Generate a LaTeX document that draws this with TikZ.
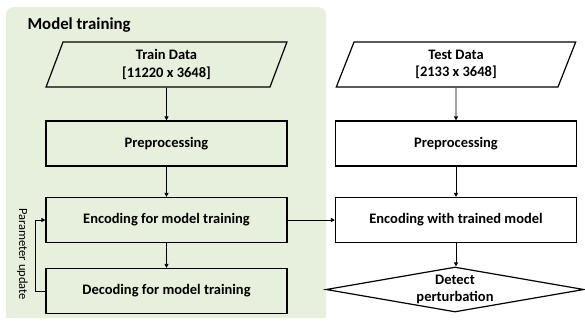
\documentclass[tikz,border=0pt]{standalone}
\usepackage{fontspec}
\setmainfont{Carlito}
\usetikzlibrary{arrows.meta,shapes.geometric}
\definecolor{bggreen}{HTML}{E6F0DD}
\begin{document}
\begin{tikzpicture}[x=1pt,y=-1pt,
  txt/.style={font=\bfseries\fontsize{14.5}{17.5}\selectfont,align=center},
  box/.style={txt,draw=black,line width=1.2pt,minimum width=241pt,minimum height=45pt,inner sep=0pt},
  para/.style={box,trapezium,trapezium left angle=76.3,trapezium right angle=103.7,trapezium stretches=true},
  conn/.style={draw=black,line width=0.8pt,-{Triangle[length=4pt,width=4pt]}}]
\useasboundingbox (0,0) rectangle (585,322);
\fill[bggreen,rounded corners=8pt] (6,7) rectangle (326,318);
\fill[bggreen] (6,300) rectangle (326,318);
\node[anchor=west,font=\bfseries\fontsize{16.8}{20}\selectfont] (title) at (24,25.5) {Model training};
% left column
\node[para] (train) at (166.5,64.5) {Train Data\\{}[11220 x 3648]};
\node[box] (pre1) at (166.5,143.5) {Preprocessing};
\node[box] (enc1) at (166.5,220) {Encoding for model training};
\node[box] (dec1) at (166.5,291) {Decoding for model training};
% right column
\node[para] (test) at (456,64.5) {Test Data\\{}[2133 x 3648]};
\node[box] (pre2) at (456,143.5) {Preprocessing};
\node[box] (enc2) at (456,220) {Encoding with trained model};
\node[draw=black,line width=1.2pt,diamond,minimum width=258pt,minimum height=45pt,inner sep=0pt] (det) at (455,289.5) {};
\node[txt,inner sep=0pt] (detlbl) at (det.center) {Detect\\perturbation};
% connectors
\draw[conn] (train) -- (pre1);
\draw[conn] (pre1) -- (enc1);
\draw[conn] (enc1) -- (dec1);
\draw[conn] (test) -- (pre2);
\draw[conn] (pre2) -- (enc2);
\draw[conn] (enc2.south) -- (enc2.south |- det.north);
\draw[conn] (enc1) -- (enc2);
\coordinate (fb) at (35,0);
\draw[conn] (dec1.west) -- (fb |- dec1.west) -- (fb |- enc1.west) -- (enc1.west);
\node[rotate=-90,font=\fontsize{12.5}{15}\selectfont] (pu) at (22.5,254) {Parameter update};
\end{tikzpicture}
\end{document}
